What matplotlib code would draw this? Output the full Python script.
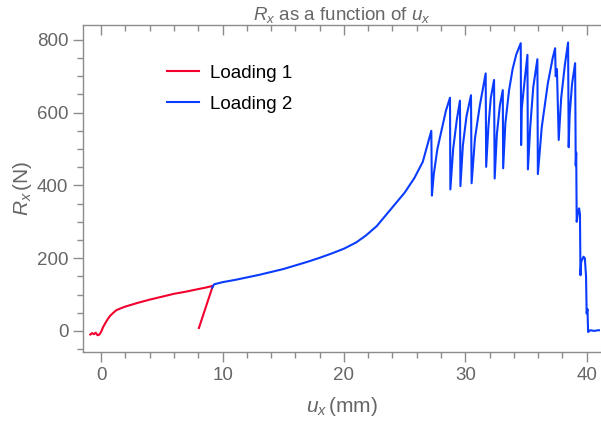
import matplotlib
matplotlib.use('Agg')
import matplotlib.pyplot as plt
from matplotlib.ticker import MultipleLocator

# Loading 1 (red): u_x in mm, R_x in N
red_x = [-0.9, -0.75, -0.6, -0.45, -0.3, -0.15, 0.0, 0.15, 0.35, 0.55, 0.75, 1.0,
         1.25, 1.6, 2.0, 2.5, 3.0, 4.0, 5.0, 6.0, 7.0, 8.0, 8.6, 9.2, 8.05]
red_y = [-10, -6, -9, -5, -12, -10, -2, 10, 22, 33, 42, 50,
         57, 62, 67, 72, 77, 86, 94, 102, 108, 115, 119, 124, 8]

# Loading 2 (blue)
blue_x = [9.15, 9.3, 10, 11, 12, 13, 14, 15, 16, 17, 18, 19, 20, 21, 21.8, 22.7,
          23.5, 24.2, 25, 25.8, 26.5, 27.2, 27.25,
          27.4, 27.7, 28.1, 28.4, 28.74, 28.77,
          29.0, 29.3, 29.56, 29.6,
          29.8, 30.1, 30.47, 30.52,
          30.8, 31.2, 31.68, 31.72,
          31.9, 32.1, 32.37, 32.42,
          32.6, 32.85, 33.09, 33.12,
          33.3, 33.6, 33.9, 34.2, 34.57, 34.6,
          34.65, 34.8, 35.12, 35.16,
          35.35, 35.6, 35.94, 35.98,
          36.3, 36.8, 37.2, 37.4, 37.45, 37.55, 37.7,
          37.9, 38.2, 38.47, 38.52,
          38.6, 38.8, 39.05, 39.1, 39.14, 39.18,
          39.3, 39.38, 39.45, 39.49, 39.55, 39.74, 39.85, 39.95,
          40.0, 40.07, 40.12, 40.3, 40.6, 41.0, 41.3]
blue_y = [119, 128, 134, 140, 147, 154, 162, 170, 180, 190, 201, 213, 226, 243, 262, 288,
          320, 348, 380, 420, 465, 550, 372,
          430, 500, 560, 605, 641, 389,
          500, 580, 633, 398,
          510, 590, 648, 406,
          530, 620, 708, 451,
          560, 640, 690, 419,
          540, 620, 662, 447,
          570, 660, 720, 760, 791, 511,
          610, 660, 759, 444,
          560, 670, 747, 431,
          560, 680, 750, 777, 700, 720, 525,
          640, 730, 793, 505,
          594, 680, 736, 455, 490, 300,
          330, 337, 320, 153, 190, 204, 200, 150,
          48, 60, -3, 2, 0, 2, 1]

RED = '#f2002e'
BLUE = '#0a3cff'
GRAY = '#666666'
SPINE = '#8c8c8c'

plt.rcParams['font.family'] = ['Liberation Sans', 'DejaVu Sans']
plt.rcParams['mathtext.fontset'] = 'custom'
plt.rcParams['mathtext.rm'] = 'Liberation Sans'
plt.rcParams['mathtext.it'] = 'Liberation Sans:italic'

fig = plt.figure(figsize=(6.01, 4.21), dpi=100)
ax = fig.add_axes([83 / 601, 1 - 352 / 421, 517 / 601, 327 / 421])

ax.plot(red_x, red_y, color=RED, lw=1.5, label='Loading 1')
ax.plot(blue_x, blue_y, color=BLUE, lw=1.5, label='Loading 2')

ax.set_xlim(-1.5, 41.1)
ax.set_ylim(-58, 841)
ax.xaxis.set_major_locator(MultipleLocator(10))
ax.xaxis.set_minor_locator(MultipleLocator(2))
ax.yaxis.set_major_locator(MultipleLocator(200))
ax.yaxis.set_minor_locator(MultipleLocator(50))

for s in ['left', 'bottom', 'top']:
    ax.spines[s].set_color(SPINE)
    ax.spines[s].set_linewidth(1.0)
ax.spines['right'].set_visible(False)

ax.tick_params(axis='both', which='both', colors=SPINE, labelcolor=GRAY, labelsize=13.5)
ax.tick_params(axis='x', which='both', direction='out', top=True)
ax.tick_params(axis='y', which='both', direction='out')
ax.tick_params(which='major', length=7, width=1)
ax.tick_params(which='minor', length=4, width=1)
# top ticks point into the plot
for t in ax.xaxis.get_major_ticks() + ax.xaxis.get_minor_ticks():
    t.tick2line.set_marker(3)

ax.set_title(r'$R_x$ as a function of $u_x$', color=GRAY, fontsize=13.5, pad=2)
ax.set_xlabel(r'$u_x\,$(mm)', color=GRAY, fontsize=15, labelpad=8)
ax.set_ylabel(r'$R_x\,$(N)', color=GRAY, fontsize=15, labelpad=2)

ax.legend(loc='upper left', bbox_to_anchor=(158 / 601, 1 - 55 / 421),
          bbox_transform=fig.transFigure, frameon=False, fontsize=13.5,
          handlelength=1.7, handletextpad=0.6, labelspacing=0.75, borderpad=0)

plt.savefig('out.png', dpi=100)
